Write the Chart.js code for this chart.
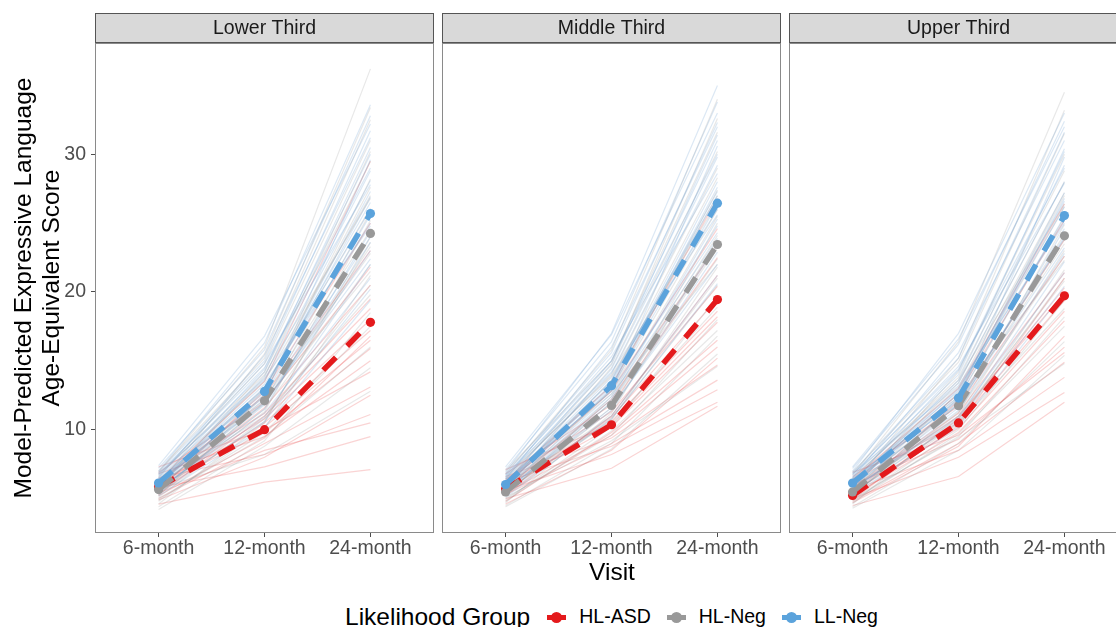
<!DOCTYPE html>
<html>
<head>
<meta charset="utf-8">
<script src="https://cdn.jsdelivr.net/npm/chart.js@4.4.1/dist/chart.umd.min.js"></script>
<style>
  html, body { margin: 0; padding: 0; background: #fff; overflow: hidden; width: 1116px; height: 627px; }
  body { position: relative; font-family: "Liberation Sans", Arial, sans-serif; color: #000; }
  canvas { position: absolute; top: 0; }
  #c1 { left: 0; }
  #c2 { left: 442px; }
  #c3 { left: 789px; }
  #visit { position: absolute; top: 560px; left: 0; width: 1224px; text-align: center; font-size: 24.5px; line-height: 1; }
  #legend { position: absolute; left: 345px; top: 602px; height: 30px; display: flex; align-items: center; line-height: 1; white-space: nowrap; }
  #legend .title { font-size: 24.5px; margin-right: 17px; }
  #legend .key { position: relative; width: 19px; height: 5px; margin-right: 13px; }
  #legend .key::after { content: ""; position: absolute; left: 4px; top: -3px; width: 11px; height: 11px; border-radius: 50%; background: inherit; }
  #legend .lab { font-size: 19.5px; margin-right: 16px; }
</style>
</head>
<body>
<canvas id="c1" width="434" height="560"></canvas>
<canvas id="c2" width="339" height="560"></canvas>
<canvas id="c3" width="339" height="560"></canvas>
<div id="visit">Visit</div>
<div id="legend"></div>
<script>
const visits = ["6-month", "12-month", "24-month"];
const panels = ["Lower Third", "Middle Third", "Upper Third"];
const groups = ["HL-ASD", "HL-Neg", "LL-Neg"];
const yTicks = [10, 20, 30];

// group means per panel, in the order of groups: [6-month, 12-month, 24-month]
const lowerMeans = [[5.85, 10.0, 17.8], [5.65, 12.1, 24.25], [6.13, 12.78, 25.7]];
const middleMeans = [[5.7, 10.36, 19.45], [5.48, 11.76, 23.45], [6.02, 13.2, 26.45]];
const upperMeans = [[5.23, 10.49, 19.72], [5.48, 11.74, 24.08], [6.13, 12.3, 25.55]];

// individual predicted trajectories
const lowerASD = [
  [4.6, 6.2, 7.1], [5.8, 7.3, 9.5], [5.4, 8.5, 10.5], [6.5, 8.2, 11.1], [5.0, 9.0, 13.1],
  [6.8, 9.5, 15.0], [5.9, 9.8, 15.9], [6.2, 10.2, 16.5], [5.5, 10.5, 17.2], [6.0, 10.8, 18.0],
  [5.3, 11.0, 18.8], [6.4, 11.2, 19.5], [5.7, 11.6, 20.5], [6.9, 12.0, 21.8], [5.2, 9.4, 16.8],
  [6.1, 12.5, 23.0], [5.6, 12.8, 25.0], [6.3, 13.5, 29.5], [7.3, 10.0, 14.2], [4.9, 8.0, 12.5]
];
const lowerNeg = [
  [5.1, 10.8, 20.5], [5.6, 11.5, 22.0], [4.4, 9.2, 18.5], [6.0, 12.4, 24.5], [5.3, 12.0, 25.8],
  [6.4, 13.5, 27.0], [5.8, 14.2, 29.5], [6.9, 16.0, 36.2], [4.8, 10.1, 21.2], [5.5, 11.9, 23.3],
  [6.2, 13.0, 26.1], [5.0, 9.5, 16.0], [5.7, 8.2, 12.8], [6.6, 14.8, 31.0], [5.2, 12.6, 28.2],
  [6.1, 11.0, 19.8], [4.6, 10.5, 24.0], [5.9, 13.8, 30.2], [6.3, 12.2, 22.8], [5.4, 11.3, 25.2],
  [7.0, 15.2, 32.5], [4.9, 9.8, 17.5], [5.6, 12.9, 27.6], [6.7, 14.0, 26.8], [5.3, 10.6, 23.6],
  [6.0, 15.5, 33.4], [4.2, 8.8, 14.5], [5.8, 12.1, 21.5]
];
const lowerLL = [
  [5.9, 12.2, 24.0], [6.3, 13.0, 26.5], [5.5, 11.8, 23.0], [6.8, 14.5, 29.0], [6.1, 12.9, 27.3],
  [7.2, 15.8, 32.8], [5.7, 11.2, 21.0], [6.5, 13.6, 28.1], [6.0, 12.5, 25.6], [7.0, 16.3, 33.6],
  [5.4, 10.6, 20.2], [6.6, 14.2, 30.5], [6.2, 13.3, 25.0], [5.8, 12.0, 22.4], [6.9, 15.0, 31.7],
  [6.4, 12.7, 26.9], [5.6, 11.5, 24.4], [7.4, 16.8, 32.2], [6.0, 13.9, 28.8], [6.3, 11.9, 23.6],
  [5.2, 10.2, 19.4], [6.7, 14.8, 27.8], [6.1, 12.4, 29.6], [5.9, 13.1, 26.0], [6.5, 15.4, 31.2],
  [5.7, 10.9, 22.0], [6.8, 13.7, 24.8], [6.2, 14.4, 30.0]
];
const middleASD = [
  [5.0, 7.2, 11.7], [5.6, 8.2, 12.0], [6.2, 8.8, 12.9], [5.3, 9.0, 13.6], [6.6, 9.4, 14.7],
  [4.8, 9.8, 16.5], [5.9, 10.2, 17.8], [6.1, 10.6, 18.6], [5.5, 10.9, 19.5], [6.4, 11.3, 20.4],
  [5.2, 11.0, 21.2], [6.8, 11.8, 22.5], [5.7, 12.2, 23.4], [6.0, 12.8, 24.6], [5.4, 9.6, 16.0],
  [6.3, 13.2, 26.8], [4.6, 8.5, 15.2], [7.1, 10.4, 18.2]
];
const middleNeg = [
  [5.0, 9.6, 18.0], [5.5, 10.8, 20.5], [4.5, 9.0, 16.8], [6.0, 11.9, 23.2], [5.2, 12.4, 25.5],
  [6.4, 13.2, 27.0], [5.7, 14.5, 30.2], [6.8, 15.8, 34.0], [4.9, 10.2, 19.6], [5.4, 11.6, 22.4],
  [6.2, 12.8, 26.0], [5.1, 9.2, 14.6], [5.8, 11.0, 21.0], [6.5, 14.0, 29.0], [5.3, 12.0, 24.1],
  [6.0, 10.5, 18.9], [4.7, 11.2, 23.8], [5.9, 13.6, 28.3], [6.3, 12.6, 22.0], [5.4, 11.4, 25.0],
  [7.0, 15.0, 31.6], [4.8, 9.9, 17.2], [5.6, 12.9, 27.4], [6.6, 13.9, 26.5], [5.2, 10.7, 21.8],
  [6.1, 14.8, 32.6], [4.4, 8.6, 15.5], [5.8, 12.2, 23.5]
];
const middleLL = [
  [5.8, 12.6, 24.8], [6.2, 13.5, 27.3], [5.4, 12.0, 23.4], [6.7, 15.0, 30.0], [6.0, 13.3, 28.0],
  [7.1, 16.4, 33.8], [5.6, 11.6, 22.0], [6.4, 14.1, 29.2], [5.9, 13.0, 26.4], [6.9, 17.0, 35.0],
  [5.3, 11.0, 21.2], [6.5, 14.7, 31.4], [6.1, 13.8, 26.0], [5.7, 12.4, 23.9], [6.8, 15.6, 32.3],
  [6.3, 13.1, 27.6], [5.5, 12.2, 25.3], [7.3, 16.9, 33.0], [5.9, 14.4, 29.8], [6.2, 12.8, 24.3],
  [5.1, 10.8, 20.6], [6.6, 15.3, 28.6], [6.0, 12.9, 30.6], [5.8, 13.6, 27.0], [6.4, 16.0, 32.0],
  [5.6, 11.4, 22.9], [6.7, 14.2, 25.6], [6.1, 15.0, 31.0]
];
const upperASD = [
  [4.5, 6.6, 12.0], [5.0, 8.0, 12.7], [5.6, 8.5, 13.8], [4.8, 9.0, 14.9], [6.0, 9.3, 16.0],
  [5.2, 9.8, 17.9], [5.5, 10.1, 18.6], [6.3, 10.5, 19.4], [4.9, 10.8, 20.3], [5.8, 11.2, 21.4],
  [6.6, 11.7, 22.6], [5.3, 12.1, 23.8], [6.1, 12.6, 25.2], [5.7, 11.0, 19.9], [6.9, 9.6, 15.6],
  [4.7, 8.8, 16.8], [6.4, 13.0, 26.4], [5.1, 10.3, 21.0]
];
const upperNeg = [
  [4.9, 9.5, 18.2], [5.4, 10.7, 21.0], [4.4, 9.0, 16.4], [5.9, 11.8, 23.5], [5.1, 12.3, 25.4],
  [6.3, 13.1, 27.2], [5.6, 14.2, 30.0], [6.7, 16.4, 34.5], [4.8, 10.0, 19.4], [5.3, 11.3, 22.6],
  [6.1, 12.6, 26.2], [5.0, 9.4, 14.8], [5.7, 10.9, 20.8], [6.4, 13.8, 28.8], [5.2, 11.9, 24.2],
  [5.9, 10.4, 18.8], [4.6, 11.0, 23.0], [5.8, 13.4, 28.0], [6.2, 12.4, 22.3], [5.3, 11.2, 24.9],
  [6.9, 14.9, 31.5], [4.7, 9.7, 17.5], [5.5, 12.7, 27.0], [6.5, 13.6, 26.4], [5.1, 10.5, 21.6],
  [6.0, 15.2, 33.2], [4.3, 8.5, 15.4], [5.7, 12.0, 23.8]
];
const upperLL = [
  [5.9, 11.9, 24.0], [6.3, 12.8, 26.6], [5.5, 11.4, 22.8], [6.8, 14.4, 29.0], [6.1, 12.6, 27.2],
  [7.2, 16.2, 32.4], [5.7, 11.0, 21.4], [6.5, 13.4, 28.0], [6.0, 12.3, 25.5], [7.0, 17.0, 33.0],
  [5.4, 10.6, 20.4], [6.6, 14.0, 30.4], [6.2, 13.0, 25.2], [5.8, 11.8, 23.2], [6.9, 15.2, 31.6],
  [6.4, 12.4, 26.8], [5.6, 11.6, 24.6], [7.3, 16.6, 32.0], [6.0, 13.6, 29.2], [6.3, 12.1, 23.9],
  [5.3, 10.2, 20.0], [6.7, 14.6, 27.9], [6.1, 12.2, 29.8], [5.9, 12.9, 26.2], [6.5, 15.6, 31.0],
  [5.7, 10.8, 22.2], [6.8, 13.2, 25.0], [6.2, 14.3, 30.2]
];

const colors = ["#e41a1c", "#999999", "#5ba3dc"];
const faint = ["rgba(228,26,28,0.19)", "rgba(150,150,150,0.22)", "rgba(110,160,210,0.24)"];
const fontFamily = "'Liberation Sans', Arial, sans-serif";

function toPoints(vals) {
  return vals.map((v, i) => ({ x: i + 1, y: v }));
}

function makeDatasets(indiv, means) {
  const sets = [];
  indiv.forEach((rows, gi) => {
    rows.forEach(row => sets.push({
      data: toPoints(row), borderColor: faint[gi], borderWidth: 1.2,
      pointRadius: 0, pointHoverRadius: 0, tension: 0, order: 5 - gi
    }));
  });
  means.forEach((row, gi) => sets.push({
    label: groups[gi], data: toPoints(row),
    borderColor: colors[gi], backgroundColor: colors[gi],
    borderWidth: 5.5, borderDash: [18, 16], borderCapStyle: "butt",
    pointRadius: 4.6, pointHoverRadius: 4.6, pointBorderWidth: 0, pointBackgroundColor: colors[gi],
    tension: 0, order: 2 - gi
  }));
  return sets;
}

// panel border + grey strip with the facet name
const facetPlugin = {
  id: "facet",
  afterDraw(chart, args, opts) {
    const { ctx, chartArea: a } = chart;
    ctx.save();
    ctx.strokeStyle = "#8a8a8a";
    ctx.lineWidth = 1;
    ctx.strokeRect(a.left + 0.5, a.top + 0.5, a.right - a.left - 1, a.bottom - a.top - 1);
    ctx.fillStyle = "#d9d9d9";
    ctx.fillRect(a.left, a.top - 30, a.right - a.left, 30);
    ctx.strokeStyle = "#555555";
    ctx.strokeRect(a.left + 0.5, a.top - 29.5, a.right - a.left - 1, 29);
    ctx.fillStyle = "#1a1a1a";
    ctx.font = "19.5px " + fontFamily;
    ctx.textAlign = "center";
    ctx.textBaseline = "middle";
    ctx.fillText(opts.label, (a.left + a.right) / 2, a.top - 14);
    ctx.restore();
  }
};

function makeChart(id, pi, indiv, means) {
  const first = pi === 0;
  return new Chart(document.getElementById(id), {
    type: "line",
    data: { datasets: makeDatasets(indiv, means) },
    plugins: [facetPlugin],
    options: {
      responsive: false,
      animation: false,
      layout: { autoPadding: false, padding: { top: 43, left: 0, right: 0, bottom: 0 } },
      plugins: {
        legend: { display: false },
        tooltip: { enabled: false },
        facet: { label: panels[pi] }
      },
      scales: {
        x: {
          type: "linear",
          min: 0.4,
          max: 3.6,
          afterBuildTicks: s => { s.ticks = visits.map((v, i) => ({ value: i + 1 })); },
          afterFit: s => { s.height = 27; },
          border: { display: false },
          grid: { drawOnChartArea: false, drawTicks: true, tickLength: 4, tickColor: "#4d4d4d" },
          ticks: {
            padding: 0, autoSkip: false, maxRotation: 0, color: "#4d4d4d",
            font: { family: fontFamily, size: 19.5 },
            callback: v => visits[v - 1]
          }
        },
        y: {
          type: "linear",
          display: first,
          min: 2.5,
          max: 38.08,
          afterBuildTicks: s => { s.ticks = yTicks.map(v => ({ value: v })); },
          afterFit: s => { s.width = first ? 95 : 0; },
          border: { display: false },
          grid: { drawOnChartArea: false, drawTicks: true, tickLength: 4, tickColor: "#4d4d4d" },
          ticks: { padding: 5, color: "#4d4d4d", font: { family: fontFamily, size: 19.5 } },
          title: {
            display: true,
            text: ["Model-Predicted Expressive Language", "Age-Equivalent Score"],
            color: "#000",
            font: { family: fontFamily, size: 24.5, lineHeight: 1.15 },
            padding: { top: 10, bottom: 0 }
          }
        }
      }
    }
  });
}

makeChart("c1", 0, [lowerASD, lowerNeg, lowerLL], lowerMeans);
makeChart("c2", 1, [middleASD, middleNeg, middleLL], middleMeans);
makeChart("c3", 2, [upperASD, upperNeg, upperLL], upperMeans);

// shared legend
const legend = document.getElementById("legend");
legend.innerHTML = '<span class="title">Likelihood Group</span>' +
  groups.map((g, i) => `<span class="key" style="background:${colors[i]}"></span><span class="lab">${g}</span>`).join("");
</script>
</body>
</html>
